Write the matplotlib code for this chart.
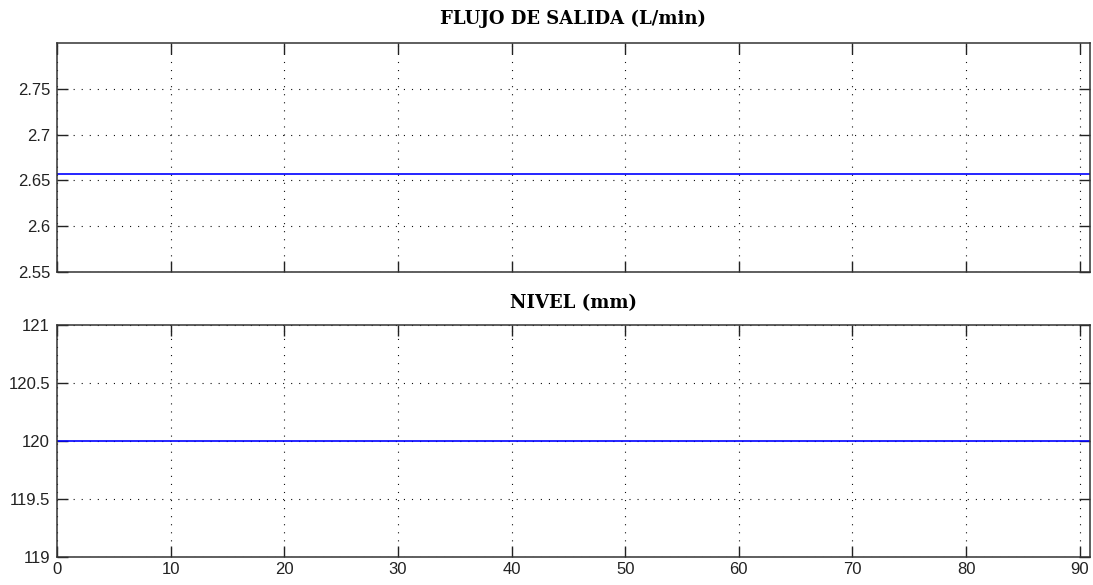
import matplotlib
matplotlib.use("Agg")
import matplotlib.pyplot as plt
import numpy as np

# Data
tiempo = [0, 91]
flujo_salida = [2.657, 2.657]
nivel = [120.0, 120.0]

x_ticks = [0, 10, 20, 30, 40, 50, 60, 70, 80, 90]
flujo_ticks = [2.55, 2.6, 2.65, 2.7, 2.75]
nivel_ticks = [119, 119.5, 120, 120.5, 121]

titulo_flujo = "FLUJO DE SALIDA (L/min)"
titulo_nivel = "NIVEL (mm)"

plt.rcParams['lines.scale_dashes'] = False
W, H = 1093, 585
fig = plt.figure(figsize=(W / 100, H / 100), dpi=100)

def frac(l, t, r, b):
    return [l / W, 1 - b / H, (r - l) / W, (b - t) / H]

ax1 = fig.add_axes(frac(57, 43, 1090, 272))
ax2 = fig.add_axes(frac(57, 325, 1090, 557))

grid_kw = dict(color='#111111', linewidth=0.8, linestyle=(0, (0.8, 5.0)))
tick_font = dict(family=['Liberation Sans', 'DejaVu Sans'], size=12)
title_font = dict(family=['DejaVu Serif'], weight='bold', size=13)

for ax, y, yt, ylim, title, pad in [
    (ax1, flujo_salida, flujo_ticks, (2.55, 2.8), titulo_flujo, 14),
    (ax2, nivel, nivel_ticks, (119, 121), titulo_nivel, 12),
]:
    ax.plot(tiempo, y, color='#0000ff', linewidth=1.2)
    ax.set_xlim(0, 90.9)
    ax.set_ylim(*ylim)
    ax.set_xticks(x_ticks)
    ax.set_yticks(yt)
    ax.set_yticklabels(['%g' % v for v in yt], **tick_font)
    ax.grid(True, **grid_kw)
    ax.tick_params(direction='in', length=8, width=1.0, color='#222222',
                   top=True, right=True, labelcolor='#222222')
    ax.tick_params(axis='y', pad=5)
    ax.tick_params(axis='x', pad=3.5)
    for s in ax.spines.values():
        s.set_linewidth(1.1)
        s.set_color('#333333')
    ax.set_title(title, pad=pad, **title_font)

ax1.set_xticklabels([])
ax2.set_xticklabels([str(v) for v in x_ticks], **tick_font)

fig.savefig('out.png', dpi=100)
